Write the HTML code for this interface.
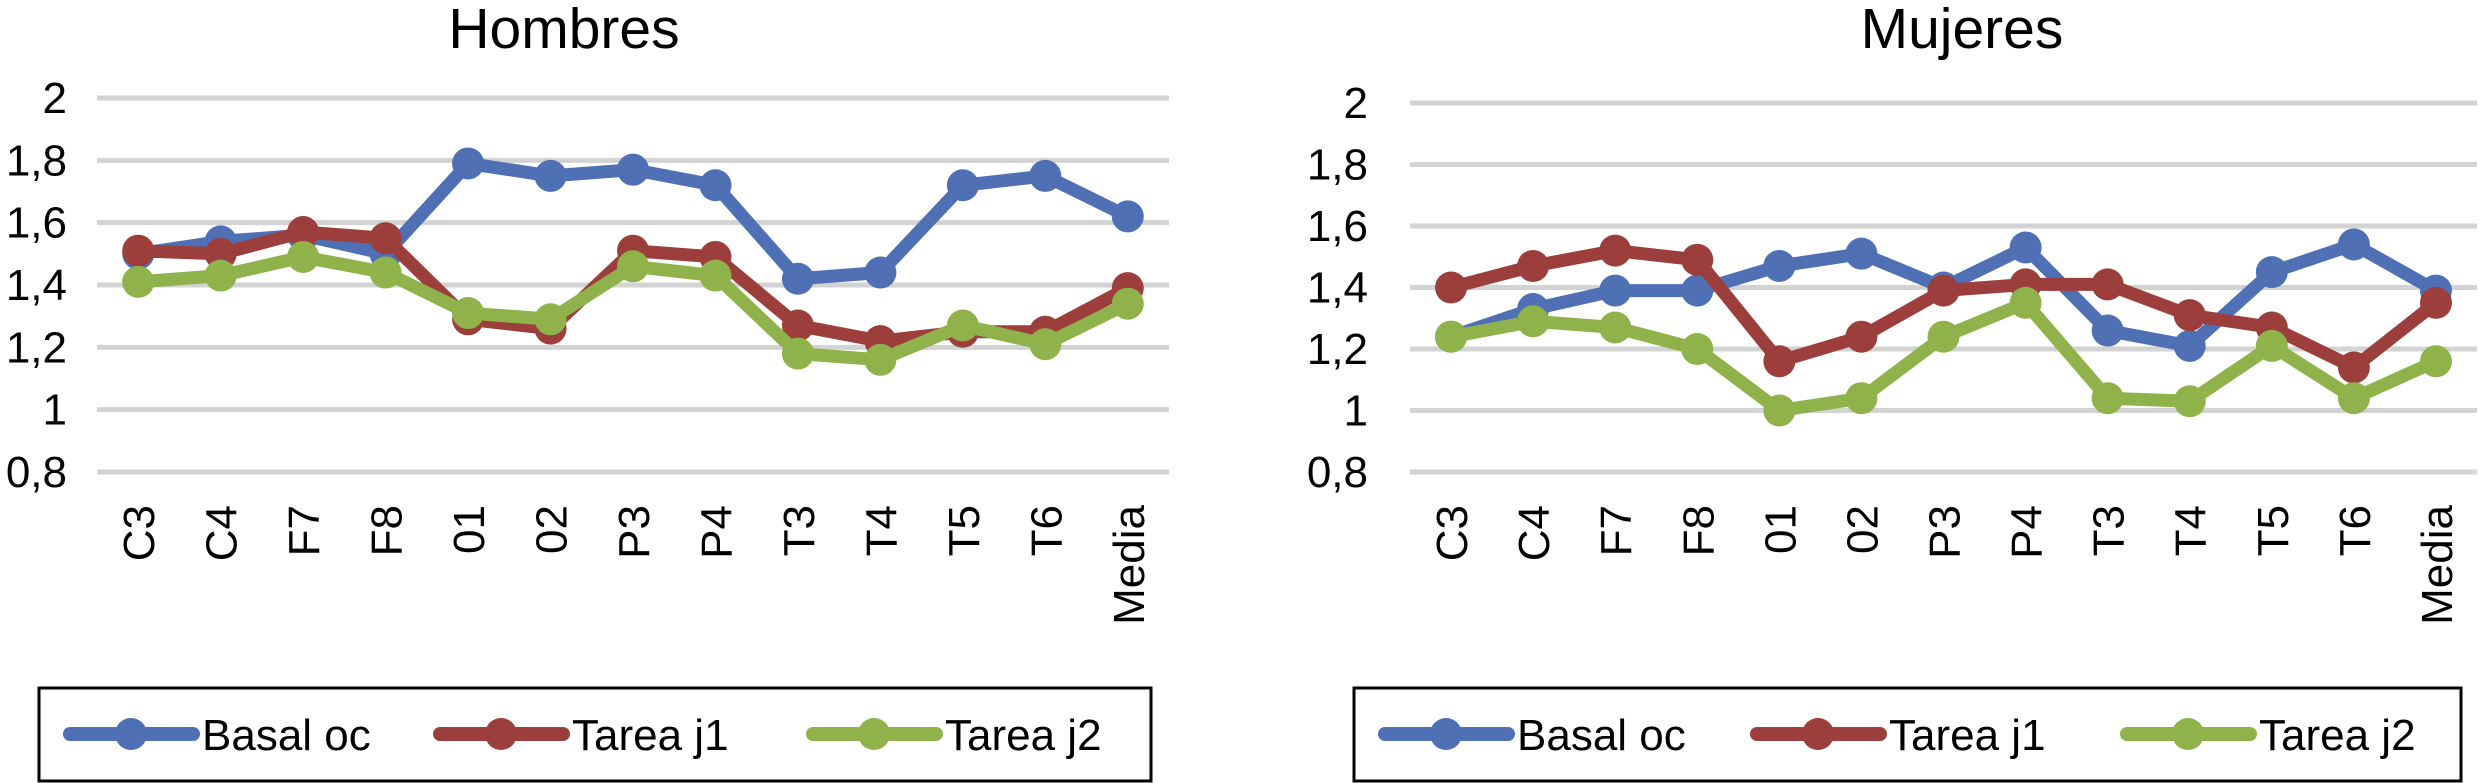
<!DOCTYPE html>
<html><head><meta charset="utf-8"><style>
html,body{margin:0;padding:0;background:#fff;}
svg{display:block;font-family:"Liberation Sans",Arial,sans-serif;}
</style></head><body>
<svg id="chart" width="2479" height="783" viewBox="0 0 2479 783" xmlns="http://www.w3.org/2000/svg">
<rect width="2479" height="783" fill="#fff"/>
</svg>
<script>
const categories = ["C3","C4","F7","F8","01","02","P3","P4","T3","T4","T5","T6","Media"];
const yTicks = [0.8,1,1.2,1.4,1.6,1.8,2];
const yTickLabels = ["0,8","1","1,2","1,4","1,6","1,8","2"];
const seriesNames = ["Basal oc","Tarea j1","Tarea j2"];
const hombresBasal = [1.50,1.54,1.56,1.50,1.79,1.75,1.77,1.72,1.42,1.44,1.72,1.75,1.62];
const hombresJ1 = [1.51,1.50,1.57,1.55,1.29,1.26,1.51,1.49,1.27,1.22,1.25,1.25,1.39];
const hombresJ2 = [1.41,1.43,1.49,1.44,1.31,1.29,1.46,1.43,1.18,1.16,1.27,1.21,1.34];
const mujeresBasal = [1.24,1.33,1.39,1.39,1.47,1.51,1.40,1.53,1.26,1.21,1.45,1.54,1.39];
const mujeresJ1 = [1.40,1.47,1.52,1.49,1.16,1.24,1.39,1.41,1.41,1.31,1.27,1.14,1.35];
const mujeresJ2 = [1.24,1.29,1.27,1.20,1.00,1.04,1.24,1.35,1.04,1.03,1.21,1.04,1.16];

const colors = ["#4f70b5","#9c3f3c","#8fb34a"];
const NS = "http://www.w3.org/2000/svg";
const svg = document.getElementById('chart');
function mk(tag, attrs, parent){
  const e = document.createElementNS(NS, tag);
  for (const k in attrs) e.setAttribute(k, attrs[k]);
  (parent||svg).appendChild(e);
  return e;
}

function drawPanel(cfg){
  const g = mk('g', {});
  
  
  const yMin = 0.8, yMax = 2;
  const yScale = v => cfg.yTop + (yMax - v) / (yMax - yMin) * (cfg.yBot - cfg.yTop);
  const band = (cfg.x1 - cfg.x0) / categories.length;
  const xScale = i => cfg.x0 + band * (i + 0.5);

  const t = mk('text', {x: cfg.titleX, y: 48, 'font-size': 57, 'text-anchor': 'middle', fill: '#000'}, g);
  t.textContent = cfg.title;
  
  

  yTicks.forEach((v, i) => {
    const l = mk('line', {x1: cfg.x0, x2: cfg.x1, y1: yScale(v), y2: yScale(v), stroke: '#d3d3d3', 'stroke-width': 5}, g);
    
    
    const tx = mk('text', {x: cfg.labelX, y: yScale(v) + 15, 'font-size': 44, 'text-anchor': 'end', fill: '#000'}, g);
    tx.textContent = yTickLabels[i];
    
    
  });

  categories.forEach((c, i) => {
    const x = xScale(i);
    const tx = mk('text', {x: 0, y: 0, 'font-size': 44, 'text-anchor': 'end', fill: '#000',
      transform: `translate(${x + 16},505) rotate(-90)`}, g);
    tx.textContent = c;
    
    
  });

  cfg.series.forEach((vals, s) => {
    const sg = mk('g', {}, g);
    
    
    const pts = vals.map((v, i) => xScale(i) + ',' + yScale(v)).join(' ');
    const pl = mk('polyline', {points: pts, fill: 'none', stroke: colors[s], 'stroke-width': 13, 'stroke-linejoin': 'round', 'stroke-linecap': 'round'}, sg);
    
    
    vals.forEach((v, i) => {
      const c = mk('circle', {cx: xScale(i), cy: yScale(v), r: 16, fill: colors[s]}, sg);
      
      
    });
  });

  const lg = mk('g', {}, g);
  
  
  const bx = mk('rect', {x: cfg.legX0, y: 688, width: cfg.legX1 - cfg.legX0, height: 93, fill: '#fff', stroke: '#000', 'stroke-width': 3}, lg);
  
  
  seriesNames.forEach((n, s) => {
    const lx = cfg.legItems[s];
    const eg = mk('g', {}, lg);
    
    
    mk('line', {x1: lx, x2: lx + 123, y1: 734, y2: 734, stroke: colors[s], 'stroke-width': 14, 'stroke-linecap': 'round'}, eg);
    mk('circle', {cx: lx + 61, cy: 734, r: 16, fill: colors[s]}, eg);
    const tx = mk('text', {x: lx + 132, y: 750, 'font-size': 44, fill: '#000'}, eg);
    tx.textContent = n;
  });
}

drawPanel({name:'hombres', title:'Hombres', titleX:564, x0:97, x1:1169, yTop:98, yBot:472, labelX:67,
  series:[hombresBasal, hombresJ1, hombresJ2], legX0:39, legX1:1151, legItems:[70, 440, 813]});
drawPanel({name:'mujeres', title:'Mujeres', titleX:1962, x0:1410, x1:2477, yTop:103, yBot:472, labelX:1368,
  series:[mujeresBasal, mujeresJ1, mujeresJ2], legX0:1354, legX1:2461, legItems:[1385, 1757, 2127]});
</script>
</body></html>
